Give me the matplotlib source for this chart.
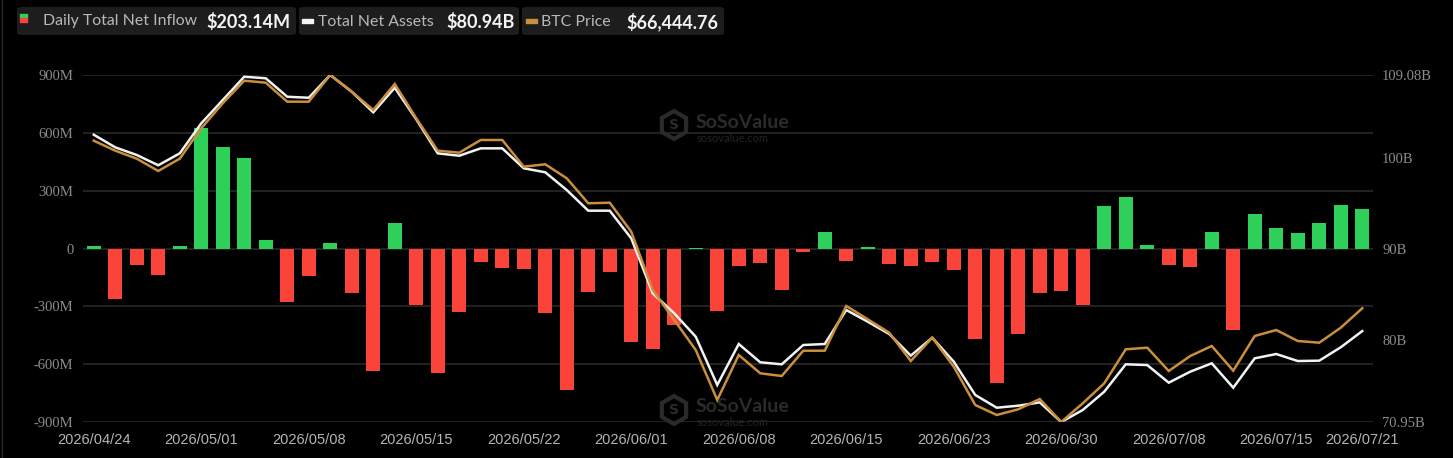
import numpy as np
import matplotlib
matplotlib.use("Agg")
import matplotlib.pyplot as plt
from matplotlib.patches import FancyBboxPatch, RegularPolygon
from matplotlib.transforms import IdentityTransform
import pandas as pd

# ---------------- data ----------------
holidays = ["2026-05-25", "2026-06-19", "2026-07-03"]
dates = [d for d in pd.bdate_range("2026-04-24", "2026-07-21")
         if d.strftime("%Y-%m-%d") not in holidays]
date_labels = [d.strftime("%Y/%m/%d") for d in dates]

# Daily total net inflow (million USD)
net_inflow = [12, -261, -88, -137, 12, 627, 529, 467, 45, -277,
              -145, 26, -232, -635, 130, -291, -647, -329, -69, -100,
              -105, -334, -735, -227, -123, -483, -521, -398, 3, -325,
              -92, -76, -213, -19, 83, -64, 9, -81, -92, -69,
              -112, -469, -696, -445, -230, -220, -294, 220, 265, 19,
              -85, -95, 88, -424, 180, 104, 78, 130, 225, 203.14]

# Total net assets (billion USD)
net_assets = [102.52, 101.13, 100.29, 99.16, 100.47, 103.77, 106.33, 108.89, 108.72, 106.69,
              106.58, 109.08, 107.24, 104.98, 107.68, 104.21, 100.47, 100.21, 101.02, 101.02,
              98.83, 98.39, 96.44, 94.17, 94.17, 91.13, 85.09, 82.89, 80.32, 75.02,
              79.52, 77.51, 77.29, 79.41, 79.52, 83.26, 81.97, 80.62, 78.24, 80.21,
              77.58, 73.92, 72.52, 72.74, 73.11, 70.95, 72.27, 74.28, 77.29, 77.21,
              75.27, 76.48, 77.40, 74.72, 77.95, 78.42, 77.65, 77.69, 79.16, 80.94]

# BTC price (USD)
btc_price = [78892, 78149, 77555, 76642, 77555, 79813, 81670, 83348, 83200, 81788,
             81788, 83770, 82531, 81172, 83103, 80555, 78149, 78001, 78944, 78944,
             76961, 77139, 76099, 74243, 74287, 72133, 67804, 65575, 63347, 59634,
             62976, 61617, 61416, 63295, 63295, 66615, 65627, 64632, 62530, 64261,
             62107, 59263, 58520, 58943, 59708, 58000, 59389, 60874, 63399, 63518,
             61788, 62902, 63645, 61810, 64387, 64833, 64016, 63890, 65004, 66444.76]

left_ticks = [-900, -600, -300, 0, 300, 600, 900]
tick_idx = [0, 5, 10, 15, 20, 25, 30, 35, 40, 45, 50, 55, 59]

# ---------------- style ----------------
BG = "#000000"
GREEN = "#2fd05a"
RED = "#fb4439"
WHITE = "#f2f2f2"
GOLD = "#c98f3c"
GRID = "#2c2c2c"
AXLAB = "#8c8c8c"
XLAB = "#b4b4b4"

W, H = 1453, 458
fig = plt.figure(figsize=(W / 100, H / 100), dpi=100, facecolor=BG)

L, R, T, B = 83, 1373, 75, 422
ax = fig.add_axes([L / W, (H - B) / H, (R - L) / W, (B - T) / H])
ax.set_facecolor(BG)

x = np.arange(len(net_inflow))
vals = np.array(net_inflow)
colors = [GREEN if v >= 0 else RED for v in vals]
ax.bar(x, vals, width=0.66, color=colors, zorder=2)

ax.set_xlim(-0.5, len(x) - 0.5)
ax.set_ylim(-900, 900)
ax.set_yticks(left_ticks)
ax.set_yticklabels([("0" if v == 0 else f"{v}M") for v in left_ticks],
                   family="Liberation Serif", fontsize=10.5, color=AXLAB)
ax.yaxis.grid(True, color=GRID, lw=1.1)
ax.set_axisbelow(True)
ax.set_xticks(tick_idx)
ax.set_xticklabels([date_labels[i] for i in tick_idx],
                   family="Liberation Sans", fontsize=10.5, color=XLAB)
ax.tick_params(axis="both", length=0)
ax.tick_params(axis="y", pad=7)
ax.tick_params(axis="x", pad=8)
for s in ax.spines.values():
    s.set_visible(False)

# Total net assets (right axis)
ax2 = ax.twinx()
ax2.plot(x, net_assets, color=WHITE, lw=1.8, zorder=3, solid_joinstyle="miter")
amin, amax = min(net_assets), max(net_assets)
ax2.set_ylim(amin, amax)
rticks = [amin, 80, 90, 100, amax]
ax2.set_yticks(rticks)
ax2.set_yticklabels([(f"{v:.2f}B" if v != int(v) else f"{int(v)}B") for v in rticks],
                    family="Liberation Serif", fontsize=10.5, color=AXLAB)
ax2.tick_params(axis="y", length=0, pad=6.5)
for s in ax2.spines.values():
    s.set_visible(False)

# BTC price (hidden axis)
ax3 = ax.twinx()
ax3.plot(x, btc_price, color=GOLD, lw=1.8, zorder=4, solid_joinstyle="miter")
ax3.set_ylim(min(btc_price), max(btc_price))
ax3.axis("off")

# ---------------- watermarks ----------------
for cy in (125, 410):
    yy = H - cy
    fig.add_artist(RegularPolygon((674, yy), numVertices=6, radius=14,
                                  orientation=0, transform=IdentityTransform(),
                                  facecolor="none", edgecolor="#2a2a2a", lw=3))
    fig.text(674 / W, yy / H, "S", ha="center", va="center", color="#2a2a2a",
             fontsize=10, fontweight="bold", family="DejaVu Sans")
    fig.text(696 / W, (yy + 3) / H, "SoSoValue", ha="left", va="center",
             color="#2b2b2b", fontsize=14, fontweight="bold", family="Lato")
    fig.text(697 / W, (yy - 13) / H, "sosovalue.com", ha="left", va="center",
             color="#242424", fontsize=8, family="Lato")

# ---------------- legend boxes ----------------
boxes = [(17, 296), (299, 519), (522, 724)]
for x0, x1 in boxes:
    fig.add_artist(FancyBboxPatch((x0 / W, (H - 35) / H), (x1 - x0) / W, 28 / H,
                                  boxstyle="round,pad=0,rounding_size=0.004",
                                  transform=fig.transFigure,
                                  facecolor="#1d1d1d", edgecolor="none"))
cy = (H - 21.5) / H
# inflow icon: green over red
fig.add_artist(plt.Rectangle((20 / W, (H - 18) / H), 7 / W, 4 / H,
                             transform=fig.transFigure, color=GREEN))
fig.add_artist(plt.Rectangle((20 / W, (H - 22) / H), 7 / W, 4 / H,
                             transform=fig.transFigure, color=RED))
# dash icons
fig.add_artist(plt.Rectangle((302 / W, (H - 23) / H), 11 / W, 4 / H,
                             transform=fig.transFigure, color=WHITE))
fig.add_artist(plt.Rectangle((526 / W, (H - 23) / H), 11 / W, 4 / H,
                             transform=fig.transFigure, color=GOLD))

lab_kw = dict(va="center", color="#b8b8b8", fontsize=11.4, family="Lato")
val_kw = dict(va="center", color="#f4f4f4", fontsize=13, family="Lato",
              fontweight="bold")
fig.text(43 / W, cy, "Daily Total Net Inflow", ha="left", **lab_kw)
fig.text(291 / W, cy, f"${net_inflow[-1]:.2f}M", ha="right", **val_kw)
fig.text(318 / W, cy, "Total Net Assets", ha="left", **lab_kw)
fig.text(515 / W, cy, f"${net_assets[-1]:.2f}B", ha="right", **val_kw)
fig.text(541 / W, cy, "BTC Price", ha="left", **lab_kw)
fig.text(718 / W, cy, f"${btc_price[-1]:,.2f}", ha="right", **val_kw)

# thin left frame line
fig.add_artist(plt.Line2D([1.5 / W, 1.5 / W], [0, 1], transform=fig.transFigure,
                          color="#2a2a2a", lw=1))

fig.savefig("out.png", dpi=100, facecolor=BG)
